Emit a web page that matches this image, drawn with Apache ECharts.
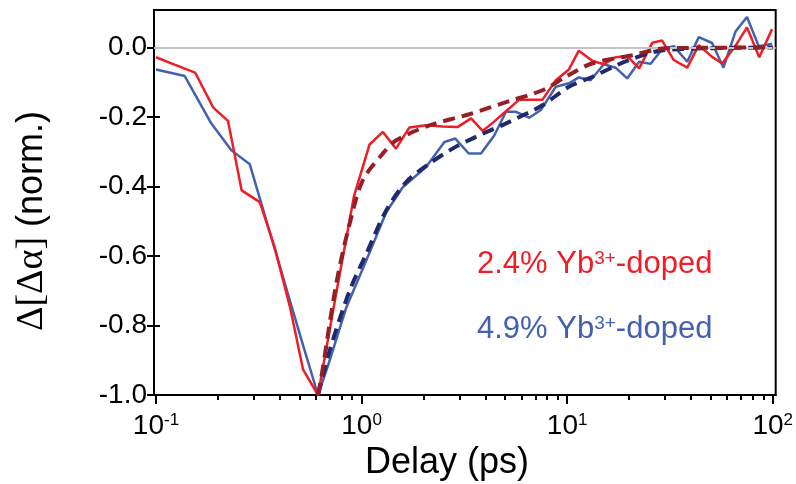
<!DOCTYPE html>
<html>
<head>
<meta charset="utf-8">
<script src="https://cdn.jsdelivr.net/npm/echarts@6/dist/echarts.min.js"></script>
<style>html,body{margin:0;padding:0;background:#fff}#c{width:796px;height:484px}</style>
</head>
<body>
<div id="c"></div>
<script>
// ---- data ----
const redX = [0.1, 0.124, 0.155, 0.19, 0.224, 0.261, 0.32, 0.378, 0.45, 0.519, 0.614, 0.75, 0.92, 1.094, 1.27, 1.47, 1.71, 2.06, 2.48, 2.93, 3.41, 3.88, 4.4, 4.85, 5.85, 6.6, 7.59, 8.81, 10.2, 11.4, 13.3, 15.1, 17.2, 19.6, 22.4, 26, 29, 33, 38.4, 43.7, 50.7, 56.8, 65.9, 75, 86, 99.3];
const redY = [-0.028, -0.050, -0.072, -0.173, -0.211, -0.411, -0.445, -0.575, -0.75, -0.926, -1.0, -0.713, -0.426, -0.279, -0.243, -0.291, -0.230, -0.224, -0.227, -0.229, -0.204, -0.240, -0.214, -0.192, -0.150, -0.150, -0.150, -0.094, -0.063, -0.009, -0.039, -0.048, -0.028, -0.025, -0.060, 0.014, 0.020, -0.036, -0.058, 0.007, -0.027, -0.046, 0.005, 0.058, -0.028, 0.053];

const blueX = [0.1, 0.138, 0.186, 0.233, 0.286, 0.36, 0.45, 0.52, 0.614, 0.70, 0.843, 1.054, 1.318, 1.586, 2.06, 2.53, 2.86, 3.32, 3.81, 4.42, 5.04, 5.64, 6.54, 7.45, 8.81, 10.2, 11.4, 13.0, 15.1, 17.2, 19.6, 22.4, 25.5, 29, 33, 38.4, 43.7, 50.7, 57.6, 65.9, 75, 85.5, 99.3];
const blueY = [-0.063, -0.082, -0.219, -0.296, -0.336, -0.537, -0.732, -0.858, -1.0, -0.900, -0.748, -0.613, -0.474, -0.402, -0.344, -0.272, -0.262, -0.305, -0.305, -0.253, -0.185, -0.185, -0.202, -0.180, -0.113, -0.103, -0.086, -0.094, -0.048, -0.058, -0.089, -0.041, -0.047, -0.004, 0.004, -0.041, 0.030, 0.013, -0.058, 0.046, 0.088, 0.004, 0.011];

const redFitX = [0.614, 0.637, 0.753, 0.875, 1.014, 1.269, 1.474, 2.14, 3.34, 5.23, 7.59, 10.2, 13.2, 20.7, 30.3, 100];
const redFitY = [-1.0, -0.95, -0.68, -0.507, -0.382, -0.305, -0.267, -0.224, -0.192, -0.154, -0.123, -0.079, -0.046, -0.022, -0.002, 0.0];

const blueFitX = [0.614, 0.699, 0.875, 1.054, 1.318, 1.648, 2.14, 2.77, 3.60, 5.23, 7.59, 10.2, 13.3, 20, 30.1, 100];
const blueFitY = [-1.0, -0.873, -0.70, -0.594, -0.469, -0.387, -0.334, -0.291, -0.257, -0.214, -0.166, -0.113, -0.084, -0.036, -0.007, 0.0];

const yTicks = [-1.0, -0.8, -0.6, -0.4, -0.2, 0.0];
const xMajor = [0.1, 1, 10, 100];
const xMinor = [0.2,0.3,0.4,0.5,0.6,0.7,0.8,0.9, 2,3,4,5,6,7,8,9, 20,30,40,50,60,70,80,90];
const labelRed = '2.4% Yb';
const labelBlue = '4.9% Yb';
const yNameSym = 'Δ[Δα]';
const yNameRest = ' (norm.)';
const xName = 'Delay (ps)';

const zip = (xs, ys) => xs.map((x, i) => [x, ys[i]]);
const FONT = 'Liberation Sans, Arial, sans-serif';
const SERIF = 'Liberation Serif, DejaVu Serif, serif';

const chart = echarts.init(document.getElementById('c'), null, {renderer: 'canvas'});
const xMin = 0.0978, xMax = 103.4;

chart.setOption({
  animation: false,
  backgroundColor: '#fff',
  grid: {left: 154, right: 19, top: 10, bottom: 89, show: true, borderColor: '#000', borderWidth: 2, backgroundColor: 'transparent'},
  xAxis: [{
    type: 'log', min: xMin, max: xMax, logBase: 10, position: 'bottom',
    axisLine: {show: true, onZero: false, lineStyle: {color: '#000', width: 2}},
    axisTick: {show: true, customValues: xMajor, length: 9, lineStyle: {color: '#000', width: 2}},
    axisLabel: {
      customValues: xMajor, margin: 17, color: '#000',
      formatter: v => '{b|10}{s|' + Math.round(Math.log10(v)) + '}',
      rich: {b: {fontSize: 28, fontFamily: FONT, color: '#000'}, s: {fontSize: 17, fontFamily: FONT, color: '#000', verticalAlign: 'top', padding: [0,0,8,0]}}
    },
    splitLine: {show: false}
  }, {
    type: 'log', min: xMin, max: xMax, logBase: 10, position: 'bottom',
    axisLine: {show: false, onZero: false},
    axisTick: {show: true, customValues: xMinor, length: 5, lineStyle: {color: '#000', width: 2}},
    axisLabel: {show: false},
    splitLine: {show: false}
  }],
  yAxis: [{
    type: 'value', min: -1.0, max: 0.108,
    axisLine: {show: true, onZero: false, lineStyle: {color: '#000', width: 2}},
    axisTick: {show: true, customValues: yTicks, length: 7, lineStyle: {color: '#000', width: 2}},
    axisLabel: {customValues: yTicks, margin: 7, color: '#000', fontSize: 28, fontFamily: FONT, formatter: v => v.toFixed(1)},
    splitLine: {show: false}
  }, {
    type: 'value', min: -1.0, max: 0.108, position: 'left',
    axisLine: {show: false, onZero: false},
    axisTick: {show: true, inside: true, customValues: yTicks, length: 6, lineStyle: {color: '#000', width: 2}},
    axisLabel: {show: false},
    splitLine: {show: false}
  }],
  series: [
    {type: 'line', data: [], z: 1, silent: true,
     markLine: {silent: true, symbol: 'none', label: {show: false}, lineStyle: {color: '#c4c4c4', width: 2, type: 'solid'}, data: [{yAxis: 0}]}},
    {name: 'blue', type: 'line', data: zip(blueX, blueY), showSymbol: false, z: 2,
     lineStyle: {color: '#4361b0', width: 2.5}},
    {name: 'red', type: 'line', data: zip(redX, redY), showSymbol: false, z: 3,
     lineStyle: {color: '#ee1d26', width: 2.5}},
    {name: 'blueFit', type: 'line', data: zip(blueFitX, blueFitY), showSymbol: false, smooth: 0.3, z: 4,
     lineStyle: {color: '#1f2a6e', width: 4, type: [12, 7]}},
    {name: 'redFit', type: 'line', data: zip(redFitX, redFitY), showSymbol: false, smooth: 0.3, z: 5,
     lineStyle: {color: '#951f25', width: 4, type: [12, 7]}}
  ],
  graphic: [
    {type: 'text', x: 32, y: 221, rotation: Math.PI / 2, style: {
      text: '{g|' + yNameSym + '}{n|' + yNameRest + '}',
      rich: {g: {fontSize: 38, fontFamily: SERIF, fill: '#000'}, n: {fontSize: 36, fontFamily: FONT, fill: '#000'}},
      textAlign: 'center', textVerticalAlign: 'middle'}},
    {type: 'text', x: 447, y: 463, style: {text: xName, font: '36px ' + FONT, fill: '#000', textAlign: 'center', textVerticalAlign: 'middle'}},
    {type: 'text', x: 477, y: 249, style: {text: '{a|' + labelRed + '}{s|3+}{a|-doped}', rich: {a: {fontSize: 31, fontFamily: FONT, fill: '#ee1d26'}, s: {fontSize: 19, fontFamily: FONT, fill: '#ee1d26', verticalAlign: 'top'}}}},
    {type: 'text', x: 477, y: 314, style: {text: '{a|' + labelBlue + '}{s|3+}{a|-doped}', rich: {a: {fontSize: 31, fontFamily: FONT, fill: '#4361b0'}, s: {fontSize: 19, fontFamily: FONT, fill: '#4361b0', verticalAlign: 'top'}}}}
  ]
});
</script>
</body>
</html>
